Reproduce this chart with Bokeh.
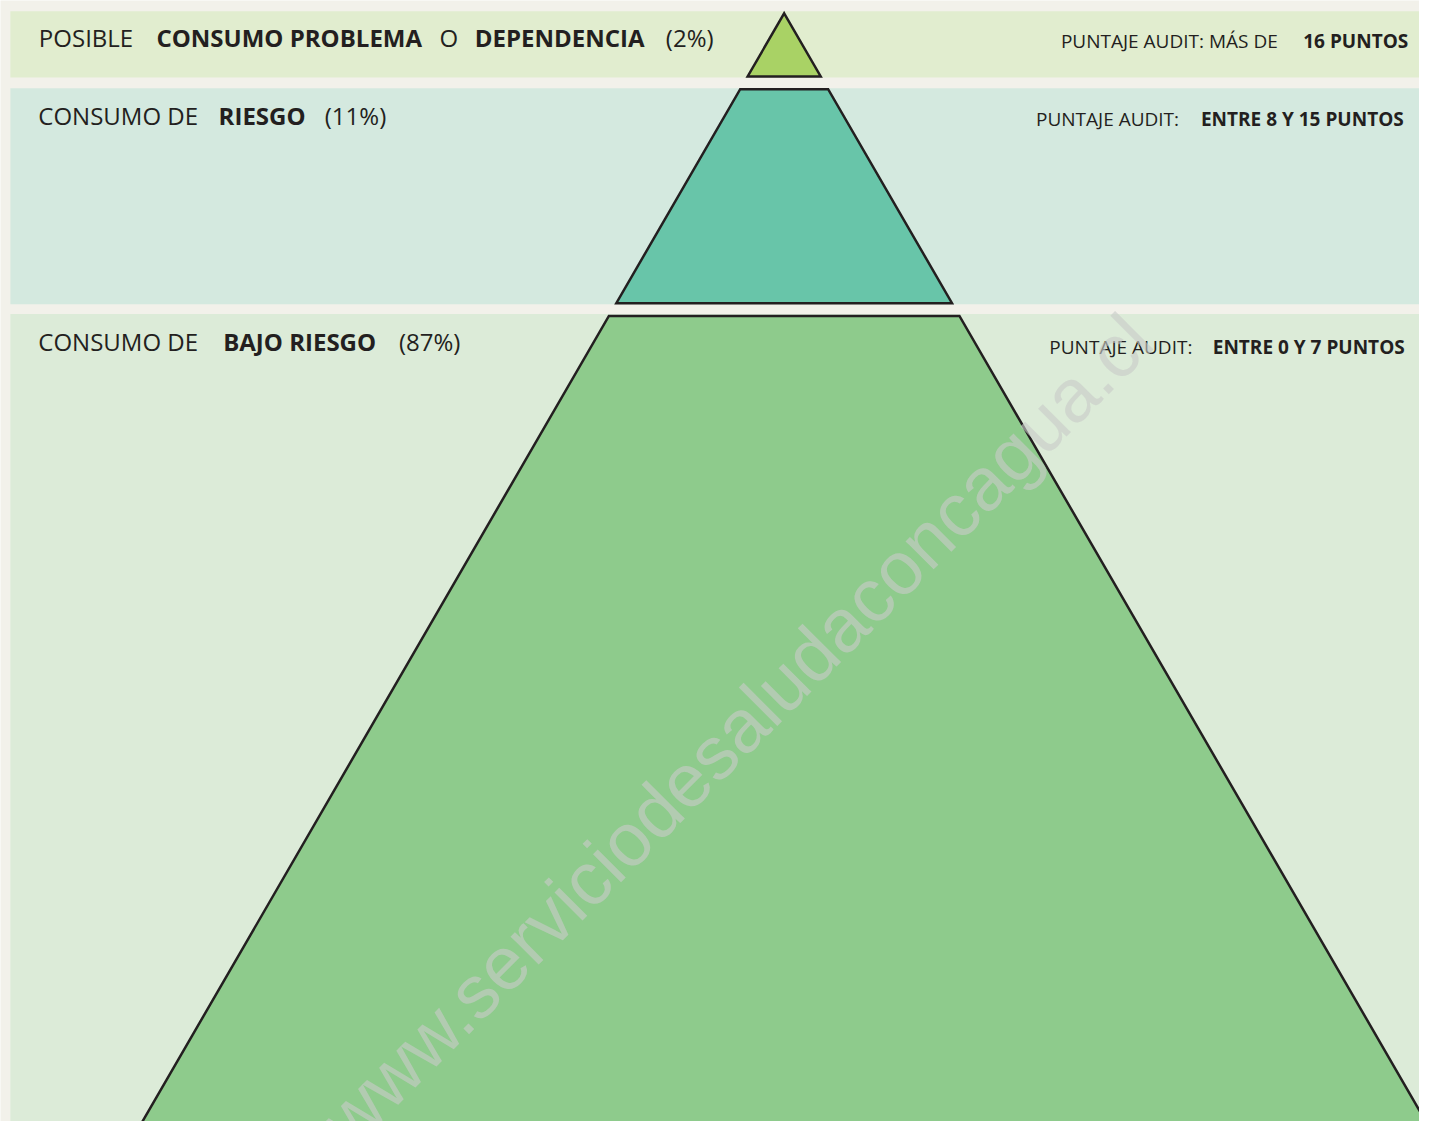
import math
from bokeh.plotting import figure
from bokeh.models import ColumnDataSource, Range1d
from bokeh.core.properties import value
from bokeh.embed import file_html
from bokeh.resources import INLINE

# ---------------- data ----------------
levels = ["Posible consumo problema o dependencia", "Consumo de riesgo", "Consumo de bajo riesgo"]
shares = [2, 11, 87]
left_parts = [
    [("POSIBLE", False), ("CONSUMO PROBLEMA", True), ("O", False), ("DEPENDENCIA", True), (f"({shares[0]}%)", False)],
    [("CONSUMO DE", False), ("RIESGO", True), (f"({shares[1]}%)", False)],
    [("CONSUMO DE", False), ("BAJO RIESGO", True), (f"({shares[2]}%)", False)],
]
right_parts = [
    [("PUNTAJE AUDIT: MÁS DE", False), ("16 PUNTOS", True)],
    [("PUNTAJE AUDIT:", False), ("ENTRE 8 Y 15 PUNTOS", True)],
    [("PUNTAJE AUDIT:", False), ("ENTRE 0 Y 7 PUNTOS", True)],
]
watermark = "www.serviciodesaludaconcagua.cl"

# ---------------- layout / style ----------------
BG = "#f2f1ea"
band_colors = ["#e1edcf", "#d4e9df", "#dcebd8"]
piece_colors = ["#a9d265", "#68c5a9", "#8ecb8c"]
INK = "#231f20"

band_left, band_right = 10, 1460
band_top = [11, 89, 318]
band_bottom = [78, 308, 1300]
apex_x, apex_y = 792.5, 13
piece_top = [13, 90, 320]
piece_bottom = [77, 307, 1300]
slope = math.tan(math.radians(30))

# horizontal spans (start, end) of each text segment and the vertical centre of its capitals
left_spans = [[(33, 140), (150, 434), (446, 461), (473, 658), (669, 725)],
              [(33, 205), (217, 312), (323, 395)],
              [(33, 205), (217, 388), (398, 470)]]
left_mids = [37.5, 117, 345.5]
right_spans = [[(1060, 1304), (1314, 1427)],
               [(1036, 1203), (1207, 1426)],
               [(1049, 1217), (1220, 1426)]]
right_mids = [41.5, 120, 351]

p = figure(width=1419, height=1121, x_range=Range1d(0, 1435), y_range=Range1d(1137, 0),
           output_backend="svg", toolbar_location=None, min_border=0)
p.axis.visible = False
p.grid.visible = False
p.outline_line_color = None
p.background_fill_color = BG
p.border_fill_color = BG

# bands
p.quad(left=[band_left] * 3, right=[band_right] * 3, top=band_top, bottom=band_bottom,
       fill_color=band_colors, line_color=None)

# pyramid pieces (one equilateral pyramid cut by the bands)
def hw(y):
    return (y - apex_y) * slope

xs, ys = [], []
for t, b in zip(piece_top, piece_bottom):
    xs.append([apex_x - hw(t), apex_x + hw(t), apex_x + hw(b), apex_x - hw(b)])
    ys.append([t, t, b, b])
p.patches(xs=xs, ys=ys, fill_color=piece_colors, line_color=INK, line_width=2.5, line_join="miter")

# labels: each segment centred on its span
def add_texts(parts_list, spans, mids, size):
    for bold in (False, True):
        tx, ty, tt = [], [], []
        for parts, sp, m in zip(parts_list, spans, mids):
            for (txt, b), (x0, x1) in zip(parts, sp):
                if b == bold:
                    tx.append((x0 + x1) / 2)
                    ty.append(m)
                    tt.append(txt)
        src = ColumnDataSource(dict(x=tx, y=ty, text=tt))
        p.text(x="x", y="y", text="text", source=src, text_font=value("Open Sans"),
               text_font_size=size, text_font_style="bold" if bold else "normal",
               text_align="center", text_baseline="middle", text_color=INK)

add_texts(left_parts, left_spans, left_mids, "24px")
add_texts(right_parts, right_spans, right_mids, "19px")

# watermark
p.text(x=[744], y=[740], text=[watermark], angle=math.pi / 4, text_font=value("Liberation Sans"),
       text_font_size="75px", text_color="#c8ccc8", text_alpha=0.62,
       text_align="center", text_baseline="alphabetic")

open("out.html", "w").write(file_html(p, INLINE))
